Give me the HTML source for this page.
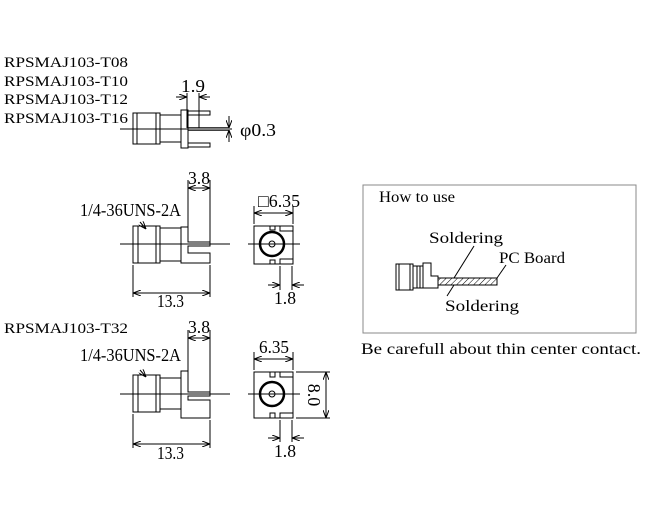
<!DOCTYPE html>
<html><head><meta charset="utf-8"><style>
html,body{margin:0;padding:0;background:#fff;}
svg{display:block;}
text{font-family:"Liberation Serif",serif;fill:#000;}
</style></head><body>
<svg width="650" height="513" viewBox="0 0 650 513" xmlns="http://www.w3.org/2000/svg">
<defs>
<marker id="a" markerWidth="8" markerHeight="6" refX="8" refY="3" orient="auto-start-reverse" markerUnits="userSpaceOnUse"><path d="M0,0 L8,3 L0,6" fill="none" stroke="#000" stroke-width="1"/></marker>
<pattern id="h" width="4" height="4" patternUnits="userSpaceOnUse" patternTransform="rotate(45)"><line x1="0" y1="0" x2="0" y2="4" stroke="#000" stroke-width="1"/></pattern>
</defs>
<g font-size="15">
<text x="4" y="67" textLength="124" lengthAdjust="spacingAndGlyphs">RPSMAJ103-T08</text>
<text x="4" y="86" textLength="124" lengthAdjust="spacingAndGlyphs">RPSMAJ103-T10</text>
<text x="4" y="104" textLength="124" lengthAdjust="spacingAndGlyphs">RPSMAJ103-T12</text>
<text x="4" y="123" textLength="124" lengthAdjust="spacingAndGlyphs">RPSMAJ103-T16</text>
<text x="4" y="333" textLength="124" lengthAdjust="spacingAndGlyphs">RPSMAJ103-T32</text>
</g>
<g stroke="#000" stroke-width="1" fill="none">
<line x1="120" y1="129" x2="232" y2="129"/>
<rect x="133" y="113" width="27" height="31"/>
<line x1="137" y1="113" x2="137" y2="144"/><line x1="156" y1="113" x2="156" y2="144"/>
<rect x="160" y="115" width="21" height="27"/>
<rect x="181" y="110" width="7" height="38"/>
<rect x="188" y="111" width="22" height="4"/>
<rect x="188" y="143" width="22" height="4"/>
<line x1="188" y1="127.5" x2="229" y2="127.5" stroke-width="0.8"/><line x1="188" y1="130.5" x2="229" y2="130.5" stroke-width="0.8"/>
<line x1="187" y1="93" x2="187" y2="128"/><line x1="199" y1="93" x2="199" y2="128"/>
<line x1="176" y1="97" x2="187" y2="97" marker-end="url(#a)"/><line x1="210" y1="97" x2="199" y2="97" marker-end="url(#a)"/>
<line x1="229" y1="116" x2="229" y2="128" marker-end="url(#a)"/><line x1="229" y1="142" x2="229" y2="130" marker-end="url(#a)"/>
<line x1="120" y1="244" x2="230" y2="244"/>
<rect x="133" y="226" width="27" height="37"/>
<line x1="138" y1="226" x2="138" y2="263"/><line x1="156" y1="226" x2="156" y2="263"/>
<rect x="160" y="228" width="21" height="33"/>
<path d="M181,227 H188 V242 H210 V246 H188 V253 H210 V263 H181 Z"/>
<line x1="188" y1="180" x2="188" y2="227"/><line x1="210" y1="180" x2="210" y2="242"/>
<line x1="188" y1="188" x2="210" y2="188" marker-start="url(#a)" marker-end="url(#a)"/>
<line x1="133" y1="265" x2="133" y2="297"/><line x1="210" y1="265" x2="210" y2="297"/>
<line x1="133" y1="293" x2="210" y2="293" marker-start="url(#a)" marker-end="url(#a)"/>
<line x1="140" y1="222" x2="146" y2="229" marker-end="url(#a)"/>
<line x1="248" y1="244" x2="300" y2="244"/>
<rect x="254" y="226" width="39" height="38"/>
<circle cx="272" cy="244" r="12" stroke-width="2.5"/><circle cx="272" cy="244" r="3"/>
<path d="M270,226 V230 H275 V226 M270,264 V260 H275 V264 M280,226 V231 H293 M280,264 V259 H293"/>
<line x1="254" y1="206" x2="254" y2="224"/><line x1="293" y1="206" x2="293" y2="224"/>
<line x1="254" y1="213" x2="293" y2="213" marker-start="url(#a)" marker-end="url(#a)"/>
<line x1="280" y1="266" x2="280" y2="290"/><line x1="292" y1="266" x2="292" y2="290"/>
<line x1="268" y1="285" x2="280" y2="285" marker-end="url(#a)"/><line x1="304" y1="285" x2="292" y2="285" marker-end="url(#a)"/>
<line x1="120" y1="394" x2="230" y2="394"/>
<rect x="133" y="375" width="27" height="37"/>
<line x1="138" y1="375" x2="138" y2="412"/><line x1="156" y1="375" x2="156" y2="412"/>
<rect x="160" y="378" width="21" height="31"/>
<path d="M181,371 H188 V392 H210 V396 H188 V400 H210 V418 H181 Z"/>
<line x1="188" y1="330" x2="188" y2="371"/><line x1="210" y1="330" x2="210" y2="392"/>
<line x1="188" y1="338" x2="210" y2="338" marker-start="url(#a)" marker-end="url(#a)"/>
<line x1="133" y1="414" x2="133" y2="448"/><line x1="210" y1="420" x2="210" y2="448"/>
<line x1="133" y1="444" x2="210" y2="444" marker-start="url(#a)" marker-end="url(#a)"/>
<line x1="140" y1="370" x2="146" y2="377" marker-end="url(#a)"/>
<line x1="248" y1="394" x2="300" y2="394"/>
<rect x="254" y="372" width="39" height="46"/>
<circle cx="272" cy="394" r="12" stroke-width="2.5"/><circle cx="272" cy="394" r="3"/>
<path d="M270,372 V377 H275 V372 M270,418 V413 H275 V418 M280,372 V377 H293 M280,418 V413 H293"/>
<line x1="254" y1="352" x2="254" y2="370"/><line x1="293" y1="352" x2="293" y2="370"/>
<line x1="254" y1="359" x2="293" y2="359" marker-start="url(#a)" marker-end="url(#a)"/>
<line x1="296" y1="372" x2="330" y2="372"/><line x1="296" y1="418" x2="330" y2="418"/>
<line x1="326" y1="372" x2="326" y2="418" marker-start="url(#a)" marker-end="url(#a)"/>
<line x1="280" y1="420" x2="280" y2="442"/><line x1="292" y1="420" x2="292" y2="442"/>
<line x1="268" y1="438" x2="280" y2="438" marker-end="url(#a)"/><line x1="304" y1="438" x2="292" y2="438" marker-end="url(#a)"/>
<rect x="363" y="185" width="273" height="148" stroke="#888"/>
<rect x="396" y="264" width="17" height="26"/>
<line x1="399" y1="264" x2="399" y2="290"/><line x1="410" y1="264" x2="410" y2="290"/>
<rect x="413" y="266" width="10" height="22"/>
<line x1="417" y1="266" x2="417" y2="288"/><line x1="420" y1="266" x2="420" y2="288"/>
<path d="M423,263 H431 V276 H438 V288 H423 Z"/>
<rect x="438" y="278" width="59" height="7" fill="url(#h)"/>
<line x1="454" y1="278" x2="474" y2="246"/>
<line x1="454" y1="285" x2="447" y2="296"/>
<line x1="497" y1="278" x2="506" y2="265"/>
</g>
<g font-size="18">
<text x="181" y="92" textLength="24" lengthAdjust="spacingAndGlyphs">1.9</text>
<text x="240" y="136" textLength="36" lengthAdjust="spacingAndGlyphs">φ0.3</text>
<text x="188" y="184" textLength="22" lengthAdjust="spacingAndGlyphs">3.8</text>
<text x="80" y="216" textLength="101" lengthAdjust="spacingAndGlyphs">1/4-36UNS-2A</text>
<text x="157" y="307" textLength="27" lengthAdjust="spacingAndGlyphs">13.3</text>
<text x="258" y="207" textLength="42" lengthAdjust="spacingAndGlyphs">□6.35</text>
<text x="274" y="304" textLength="22" lengthAdjust="spacingAndGlyphs">1.8</text>
<text x="188" y="333" textLength="22" lengthAdjust="spacingAndGlyphs">3.8</text>
<text x="80" y="361" textLength="101" lengthAdjust="spacingAndGlyphs">1/4-36UNS-2A</text>
<text x="157" y="459" textLength="27" lengthAdjust="spacingAndGlyphs">13.3</text>
<text x="259" y="353" textLength="30" lengthAdjust="spacingAndGlyphs">6.35</text>
<text x="274" y="457" textLength="22" lengthAdjust="spacingAndGlyphs">1.8</text>
<text transform="translate(308,395) rotate(90)" text-anchor="middle">8.0</text>
</g>
<g font-size="16">
<text x="379" y="202" textLength="76" lengthAdjust="spacingAndGlyphs">How to use</text>
<text x="429" y="243" textLength="74" lengthAdjust="spacingAndGlyphs">Soldering</text>
<text x="499" y="263" textLength="66" lengthAdjust="spacingAndGlyphs">PC Board</text>
<text x="445" y="311" textLength="74" lengthAdjust="spacingAndGlyphs">Soldering</text>
<text x="361" y="354" textLength="280" lengthAdjust="spacingAndGlyphs">Be carefull about thin center contact.</text>
</g>
</svg>
</body></html>
